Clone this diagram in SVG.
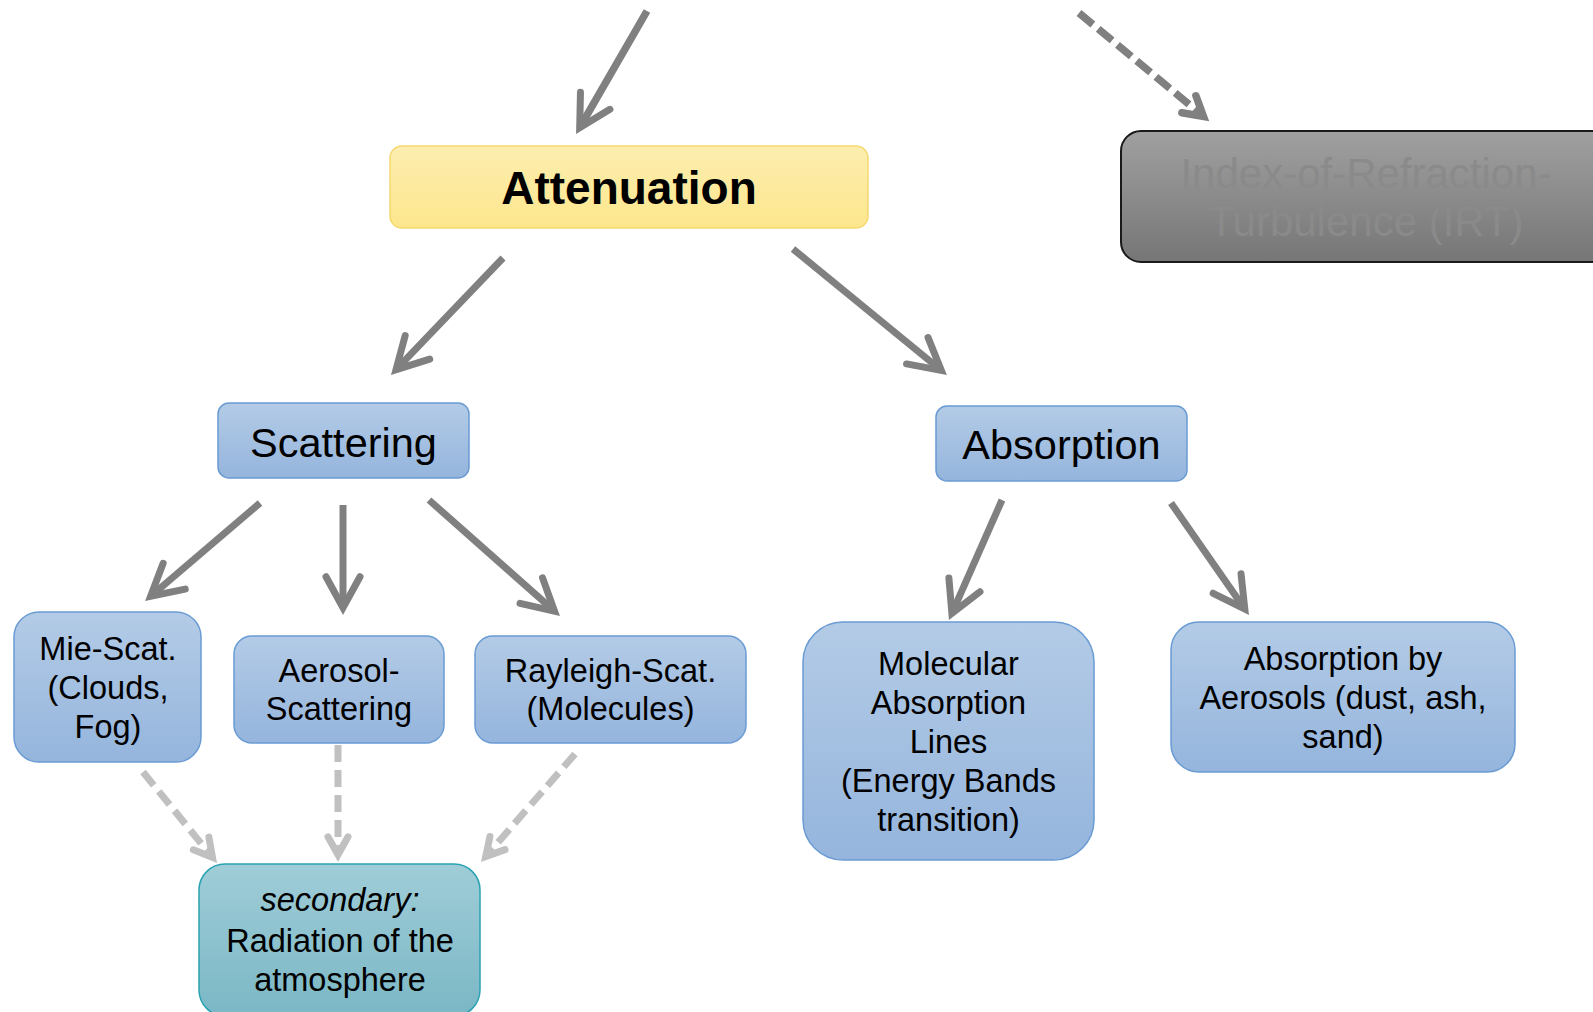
<svg xmlns="http://www.w3.org/2000/svg" width="1593" height="1012" viewBox="0 0 1593 1012">
  <defs>
    <linearGradient id="gBlue" x1="0" y1="0" x2="0" y2="1">
      <stop offset="0" stop-color="#b3cbe6"/>
      <stop offset="1" stop-color="#95b5dd"/>
    </linearGradient>
    <linearGradient id="gYellow" x1="0" y1="0" x2="0" y2="1">
      <stop offset="0" stop-color="#fdeeb0"/>
      <stop offset="1" stop-color="#fde68c"/>
    </linearGradient>
    <linearGradient id="gTeal" x1="0" y1="0" x2="0" y2="1">
      <stop offset="0" stop-color="#9fcdd8"/>
      <stop offset="1" stop-color="#7bb7c5"/>
    </linearGradient>
    <linearGradient id="gGray" x1="0" y1="0" x2="0" y2="1">
      <stop offset="0" stop-color="#a0a0a0"/>
      <stop offset="1" stop-color="#767676"/>
    </linearGradient>
    <marker id="headDark" markerUnits="userSpaceOnUse" orient="auto" markerWidth="80" markerHeight="80" refX="0" refY="0" viewBox="-40 -40 80 80" overflow="visible">
      <path d="M-31,-17 L0,0 L-31,17" fill="none" stroke="#808080" stroke-width="7" stroke-linejoin="miter" stroke-miterlimit="10" stroke-linecap="round" stroke-dasharray="none"/>
    </marker>
    <marker id="headDash" markerUnits="userSpaceOnUse" orient="auto" markerWidth="80" markerHeight="80" refX="0" refY="0" viewBox="-40 -40 80 80" overflow="visible">
      <path d="M-19,-11 L0,0 L-19,11" fill="none" stroke="#808080" stroke-width="7.5" stroke-linejoin="miter" stroke-miterlimit="10" stroke-linecap="round" stroke-dasharray="none"/>
    </marker>
    <marker id="headLight" markerUnits="userSpaceOnUse" orient="auto" markerWidth="80" markerHeight="80" refX="0" refY="0" viewBox="-40 -40 80 80" overflow="visible">
      <path d="M-18,-10 L0,0 L-18,10" fill="none" stroke="#c0c0c0" stroke-width="7" stroke-linejoin="miter" stroke-miterlimit="10" stroke-linecap="round" stroke-dasharray="none"/>
    </marker>
  </defs>
  <style>
    .blue { fill: url(#gBlue); stroke: #6a9bd3; stroke-width: 1.5; }
    .yellow { fill: url(#gYellow); stroke: #f5d96e; stroke-width: 1.5; }
    .teal { fill: url(#gTeal); stroke: #2aa2b2; stroke-width: 1.5; }
    .gray { fill: url(#gGray); stroke: #1a1a1a; stroke-width: 2; }
    text { font-family: "Liberation Sans", Arial, sans-serif; text-anchor: middle; fill: #000; }
    .t32 { font-size: 32.5px; }
    .t41 { font-size: 41.5px; }
    .att { font-size: 46px; font-weight: bold; }
    .irt { font-size: 42px; fill: #8a8a8a; }
    .solid { fill: none; stroke: #808080; stroke-width: 7; marker-end: url(#headDark); }
    .dashDark { fill: none; stroke: #808080; stroke-width: 7.5; stroke-dasharray: 18 7; marker-end: url(#headDash); }
    .dashLight { fill: none; stroke: #c0c0c0; stroke-width: 7; stroke-dasharray: 17 8; marker-end: url(#headLight); }
  </style>

  <g id="connectors">
    <path class="solid" style="stroke-width:7.5" d="M647,11 L579.7,127.7"/>
    <path class="dashDark" d="M1079,13 L1203.5,116.4"/>
    <path class="solid" d="M503,258 L396,369.7"/>
    <path class="solid" d="M793,249 L941.3,370.4"/>
    <path class="solid" d="M260,503 L150.6,596.3"/>
    <path class="solid" d="M343,505 L343,607.7"/>
    <path class="solid" d="M429,500 L554.5,611.2"/>
    <path class="solid" d="M1002,500 L951.9,613.3"/>
    <path class="solid" d="M1171,503 L1244.8,609"/>
    <path class="dashLight" d="M143,772 L212.5,857.4"/>
    <path class="dashLight" d="M338,745 L338,854.8"/>
    <path class="dashLight" d="M575,754 L485.7,856.6"/>
  </g>

  <g id="node-attenuation">
    <rect class="yellow" x="390" y="146" width="478" height="82" rx="12"/>
    <text class="att" x="629" y="204">Attenuation</text>
  </g>

  <g id="node-irt">
    <rect class="gray" x="1121" y="131" width="500" height="131" rx="20"/>
    <text class="irt" x="1366" y="188">Index-of-Refraction-</text>
    <text class="irt" x="1366" y="236">Turbulence (IRT)</text>
  </g>

  <g id="node-scattering">
    <rect class="blue" x="218" y="403" width="251" height="75" rx="11"/>
    <text class="t41" x="343.5" y="457">Scattering</text>
  </g>

  <g id="node-absorption">
    <rect class="blue" x="936" y="406" width="251" height="75" rx="11"/>
    <text class="t41" x="1061.5" y="459">Absorption</text>
  </g>

  <g id="node-mie">
    <rect class="blue" x="14" y="612" width="187" height="150" rx="25"/>
    <text class="t32" x="108" y="660">Mie-Scat.</text>
    <text class="t32" x="108" y="699">(Clouds,</text>
    <text class="t32" x="108" y="738">Fog)</text>
  </g>

  <g id="node-aerosol-scattering">
    <rect class="blue" x="234" y="636" width="210" height="107" rx="18"/>
    <text class="t32" x="339" y="682">Aerosol-</text>
    <text class="t32" x="339" y="720">Scattering</text>
  </g>

  <g id="node-rayleigh">
    <rect class="blue" x="475" y="636" width="271" height="107" rx="18"/>
    <text class="t32" x="610.5" y="682">Rayleigh-Scat.</text>
    <text class="t32" x="610.5" y="720">(Molecules)</text>
  </g>

  <g id="node-molecular">
    <rect class="blue" x="803" y="622" width="291" height="238" rx="40"/>
    <text class="t32" x="948.5" y="675">Molecular</text>
    <text class="t32" x="948.5" y="714">Absorption</text>
    <text class="t32" x="948.5" y="753">Lines</text>
    <text class="t32" x="948.5" y="792">(Energy Bands</text>
    <text class="t32" x="948.5" y="831">transition)</text>
  </g>

  <g id="node-absorption-aerosols">
    <rect class="blue" x="1171" y="622" width="344" height="150" rx="28"/>
    <text class="t32" x="1343" y="670">Absorption by</text>
    <text class="t32" x="1343" y="709">Aerosols (dust, ash,</text>
    <text class="t32" x="1343" y="748">sand)</text>
  </g>

  <g id="node-secondary">
    <rect class="teal" x="199" y="864" width="281" height="152" rx="26"/>
    <text class="t32" x="340" y="911" font-style="italic">secondary:</text>
    <text class="t32" x="340" y="952">Radiation of the</text>
    <text class="t32" x="340" y="991">atmosphere</text>
  </g>
</svg>
